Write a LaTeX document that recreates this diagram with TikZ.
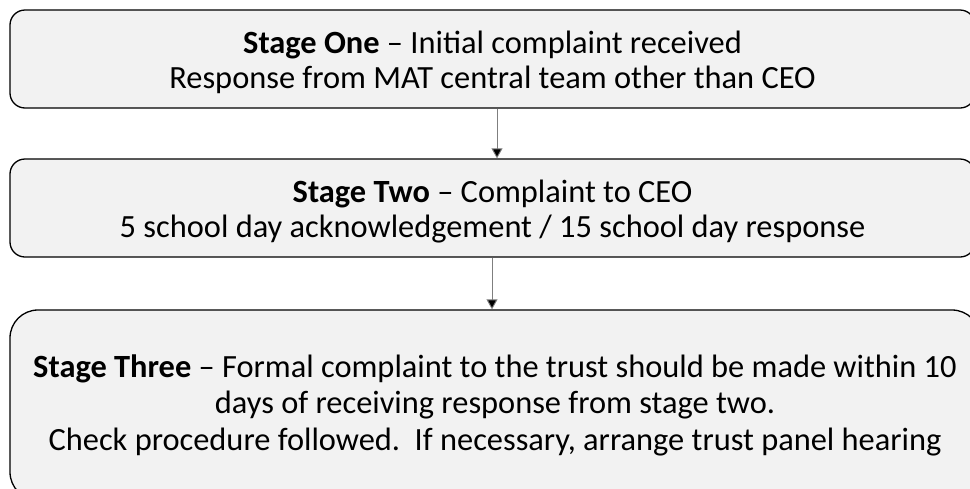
\documentclass[tikz,border=0pt]{standalone}
\usepackage{fontspec}
\setmainfont{Carlito}
\usetikzlibrary{arrows.meta}
\begin{document}
\begin{tikzpicture}[x=1pt,y=-1pt,
  stagebox/.style={draw=black, line width=1.3pt, fill=boxfill, inner sep=0pt},
  stagetext/.style={align=center, inner sep=0pt, font=\fontsize{32.4}{35.5}\selectfont},
  arr/.style={draw=arrowgray, line width=0.9pt, -{Triangle[length=10pt,width=11pt,fill=black]}}]
\definecolor{boxfill}{HTML}{F2F2F2}
\definecolor{arrowgray}{HTML}{7F7F7F}
\useasboundingbox (0,0) rectangle (970,488);
\node[stagebox, rounded corners=15pt, minimum width=965pt, minimum height=98pt,
  label={[stagetext, yshift=-3.5pt]center:{\textbf{Stage One} -- Initial complaint received\\Response from MAT central team other than CEO}}] (b1) at (492.5,59) {};
\node[stagebox, rounded corners=15pt, minimum width=965pt, minimum height=98pt,
  label={[stagetext, yshift=-3.5pt]center:{\textbf{Stage Two} -- Complaint to CEO\\5 school day acknowledgement / 15 school day response}}] (b2) at (492.5,208) {};
\node[stagebox, rounded corners=28pt, minimum width=970pt, minimum height=190pt,
  label={[stagetext, font=\fontsize{32.4}{36.5}\selectfont]center:{\textbf{Stage Three} -- Formal complaint to the trust should be made within 10\\days of receiving response from stage two.\\Check procedure followed.\ \ If necessary, arrange trust panel hearing}}] (b3) at (495,405) {};
\coordinate (a1) at (497,0);
\coordinate (a2) at (492,0);
\draw[arr] (b1.south -| a1) -- (b2.north -| a1);
\draw[arr] (b2.south -| a2) -- (b3.north -| a2);
\end{tikzpicture}
\end{document}
